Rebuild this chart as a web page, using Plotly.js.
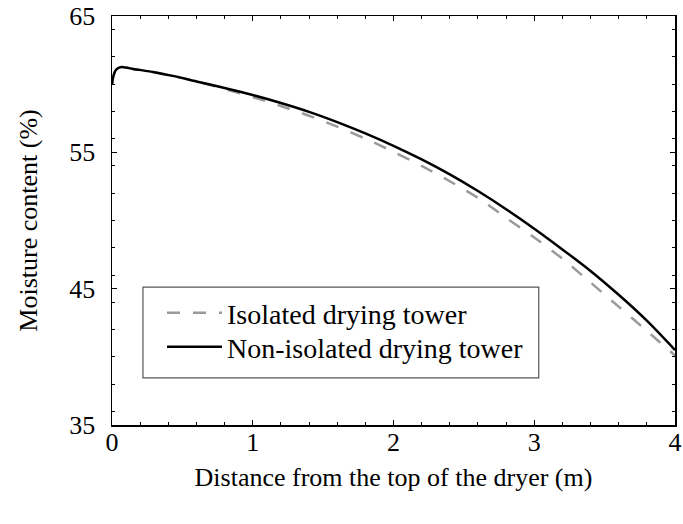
<!DOCTYPE html>
<html>
<head>
<meta charset="utf-8">
<script src="https://cdn.plot.ly/plotly-3.0.1.min.js"></script>
<style>html,body{margin:0;padding:0;background:#fff;}#chart{width:683px;height:524px;}</style>
</head>
<body>
<div id="chart"></div>
<script>
// Distance from the top of the dryer (m)
const distance = [0, 0.01, 0.025, 0.05, 0.08, 0.15, 0.3, 0.45, 0.6, 0.8, 1.0, 1.2, 1.4, 1.6, 1.8, 2.0, 2.2, 2.4, 2.6, 2.8, 3.0, 3.2, 3.4, 3.6, 3.8, 4.0];
// Moisture content (%) - isolated drying tower (dashed grey)
const isolated = [60.0, 60.6, 61.0, 61.22, 61.25, 61.12, 60.88, 60.57, 60.2, 59.65, 59.05, 58.4, 57.68, 56.88, 56.0, 55.04, 54.0, 52.88, 51.66, 50.2, 48.75, 47.2, 45.45, 43.68, 41.9, 40.1];
// Moisture content (%) - non-isolated drying tower (solid black)
const nonIsolated = [60.0, 60.6, 61.0, 61.22, 61.25, 61.12, 60.88, 60.57, 60.2, 59.72, 59.2, 58.62, 57.97, 57.22, 56.39, 55.48, 54.48, 53.38, 52.16, 50.83, 49.4, 47.88, 46.3, 44.55, 42.65, 40.5];
const seriesNames = ["Isolated drying tower", "Non-isolated drying tower"];
const xTicks = [0, 1, 2, 3, 4];
const yTicks = [35, 45, 55, 65];

const FONT = "Liberation Serif";

const traces = [
  {
    x: distance, y: isolated, name: seriesNames[0], type: "scatter", mode: "lines", legend: "legend",
    line: {color: "#9a9a9a", width: 2.5, dash: "13px,13px", shape: "spline", smoothing: 0.8}
  },
  {
    x: distance, y: nonIsolated, name: seriesNames[1], type: "scatter", mode: "lines", legend: "legend2",
    line: {color: "#000000", width: 2.5, shape: "spline", smoothing: 0.8}
  }
];

const legendBase = {
  x: 0.0888, xanchor: "left", yanchor: "middle",
  bgcolor: "rgba(0,0,0,0)", borderwidth: 0,
  font: {family: FONT, size: 28, color: "#000"},
  itemwidth: 55
};

const layout = {
  width: 683, height: 524,
  margin: {l: 112, r: 8, t: 16, b: 99},
  paper_bgcolor: "#fff", plot_bgcolor: "#fff",
  font: {family: FONT, color: "#000", size: 26},
  showlegend: true,
  legend: Object.assign({}, legendBase, {y: 0.2738}),
  legend2: Object.assign({}, legendBase, {y: 0.1907}),
  shapes: [
    {type: "rect", xref: "paper", yref: "paper", x0: 0.055, x1: 0.758, y0: 0.115, y1: 0.337,
     line: {color: "#555", width: 1.2}, fillcolor: "#fff", layer: "below"}
  ],
  xaxis: {
    range: [0, 4], tickvals: xTicks, ticktext: xTicks.map(String),
    ticks: "inside", ticklen: 5, tickwidth: 1, tickcolor: "#000",
    minor: {dtick: 0.2, ticks: "inside", ticklen: 3, tickcolor: "#000", showgrid: false},
    showline: true, linecolor: "#000", linewidth: 1.5, mirror: "allticks",
    showgrid: false, zeroline: false,
    tickfont: {family: FONT, size: 26, color: "#000"},
    ticklabelstandoff: -7,
    title: {text: "Distance from the top of the dryer (m)", font: {family: FONT, size: 26, color: "#000"}, standoff: 12}
  },
  yaxis: {
    range: [35, 65], tickvals: yTicks, ticktext: yTicks.map(String),
    ticks: "inside", ticklen: 5, tickwidth: 1, tickcolor: "#000",
    minor: {dtick: 2, ticks: "inside", ticklen: 3, tickcolor: "#000", showgrid: false},
    showline: true, linecolor: "#000", linewidth: 1.5, mirror: "allticks",
    showgrid: false, zeroline: false,
    tickfont: {family: FONT, size: 26, color: "#000"},
    ticklabelstandoff: 10,
    title: {text: "Moisture content (%)", font: {family: FONT, size: 26, color: "#000"}, standoff: 24}
  }
};

Plotly.newPlot("chart", traces, layout, {staticPlot: true, displayModeBar: false});
</script>
</body>
</html>
